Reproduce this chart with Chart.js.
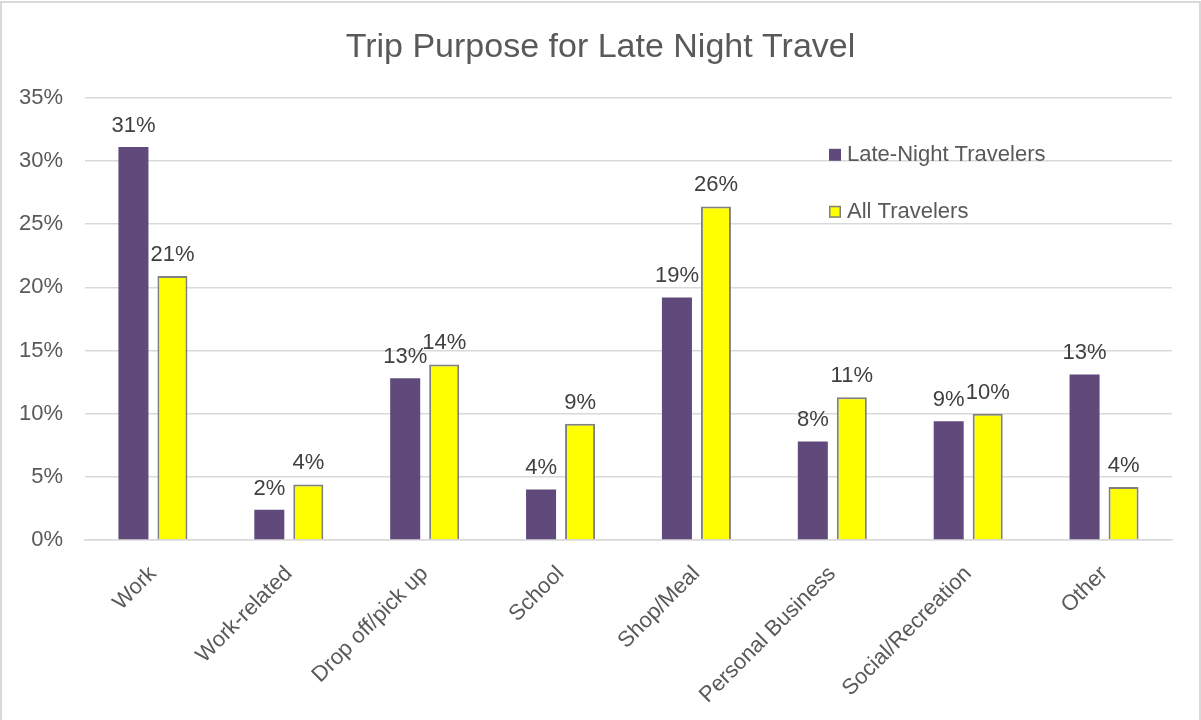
<!DOCTYPE html>
<html>
<head>
<meta charset="utf-8">
<script src="https://cdn.jsdelivr.net/npm/chart.js@4"></script>
<style>
  html, body { margin: 0; padding: 0; background: #fff; }
  #wrap {
    position: absolute; left: 0; top: 1px;
    width: 1197px; height: 717px;
    border: 2px solid #d9d9d9; border-bottom: none;
  }
</style>
</head>
<body>
<div id="wrap"><canvas id="chartPurpose"></canvas></div>
<script>
const categories = ['Work', 'Work-related', 'Drop off/pick up', 'School', 'Shop/Meal', 'Personal Business', 'Social/Recreation', 'Other'];
const lateNight = [31.1, 2.4, 12.8, 4.0, 19.2, 7.8, 9.4, 13.1];
const allTravelers = [20.9, 4.4, 13.9, 9.2, 26.4, 11.3, 10.0, 4.2];
const yTicks = [0, 5, 10, 15, 20, 25, 30, 35];

const FONT = "'Liberation Sans', Arial, sans-serif";

// value labels above every bar
const barLabels = {
  id: 'barLabels',
  afterDatasetsDraw(chart) {
    const ctx = chart.ctx;
    ctx.save();
    ctx.font = '22px ' + FONT;
    ctx.fillStyle = '#404040';
    ctx.textAlign = 'center';
    ctx.textBaseline = 'alphabetic';
    chart.data.datasets.forEach((ds, i) => {
      chart.getDatasetMeta(i).data.forEach((bar, j) => {
        ctx.fillText(Math.round(ds.data[j]) + '%', bar.x, bar.y - 15);
      });
    });
    ctx.restore();
  }
};

// legend drawn inside the plot area, stacked vertically
const innerLegend = {
  id: 'innerLegend',
  afterDraw(chart, args, opts) {
    const ctx = chart.ctx;
    const a = chart.chartArea;
    ctx.save();
    ctx.font = '22px ' + FONT;
    ctx.textBaseline = 'middle';
    chart.data.datasets.forEach((ds, i) => {
      const x = a.left + opts.x;
      const y = a.top + opts.y + i * opts.rowGap;
      ctx.fillStyle = ds.backgroundColor;
      ctx.fillRect(x, y - 6, 12, 12);
      if (ds.borderWidth) {
        ctx.strokeStyle = ds.borderColor;
        ctx.lineWidth = 1.5;
        ctx.strokeRect(x + 0.75, y - 5.25, 10.5, 10.5);
      }
      ctx.fillStyle = '#595959';
      ctx.fillText(ds.label, x + 18, y);
    });
    ctx.restore();
  }
};

new Chart(document.getElementById('chartPurpose'), {
  type: 'bar',
  data: {
    labels: categories,
    datasets: [
      {
        label: 'Late-Night Travelers',
        data: lateNight,
        backgroundColor: '#604a7b',
        borderWidth: 0,
        categoryPercentage: 0.574,
        barPercentage: 0.77
      },
      {
        label: 'All Travelers',
        data: allTravelers,
        backgroundColor: '#ffff00',
        borderColor: '#808080',
        borderWidth: 2,
        categoryPercentage: 0.574,
        barPercentage: 0.77
      }
    ]
  },
  plugins: [barLabels, innerLegend],
  options: {
    responsive: true,
    maintainAspectRatio: false,
    animation: false,
    layout: { padding: 0 },
    plugins: {
      legend: { display: false },
      tooltip: { enabled: false },
      title: {
        display: true,
        text: 'Trip Purpose for Late Night Travel',
        color: '#595959',
        font: { family: FONT, size: 34, weight: 'normal' },
        padding: { top: 24, bottom: 30 }
      },
      innerLegend: { x: 744, y: 57, rowGap: 57 }
    },
    scales: {
      x: {
        grid: { display: false },
        border: { color: '#d9d9d9', width: 1.5 },
        ticks: {
          color: '#595959',
          font: { family: FONT, size: 22 },
          minRotation: 45,
          maxRotation: 45,
          padding: 13
        },
        afterFit: (s) => { s.height = 180; }
      },
      y: {
        min: 0,
        max: 35,
        afterBuildTicks: (s) => { s.ticks = yTicks.map(v => ({ value: v })); },
        grid: { color: '#d9d9d9', lineWidth: 1.5, drawTicks: false },
        border: { display: false },
        ticks: {
          color: '#595959',
          font: { family: FONT, size: 22 },
          padding: 22,
          callback: (v) => v + '%'
        },
        afterFit: (s) => { s.width = 83; }
      },
      // empty right-hand margin so the title stays centred on the full width
      margin: {
        position: 'right',
        grid: { display: false },
        border: { display: false },
        ticks: { display: false },
        afterFit: (s) => { s.width = 27; }
      }
    }
  }
});
</script>
</body>
</html>
